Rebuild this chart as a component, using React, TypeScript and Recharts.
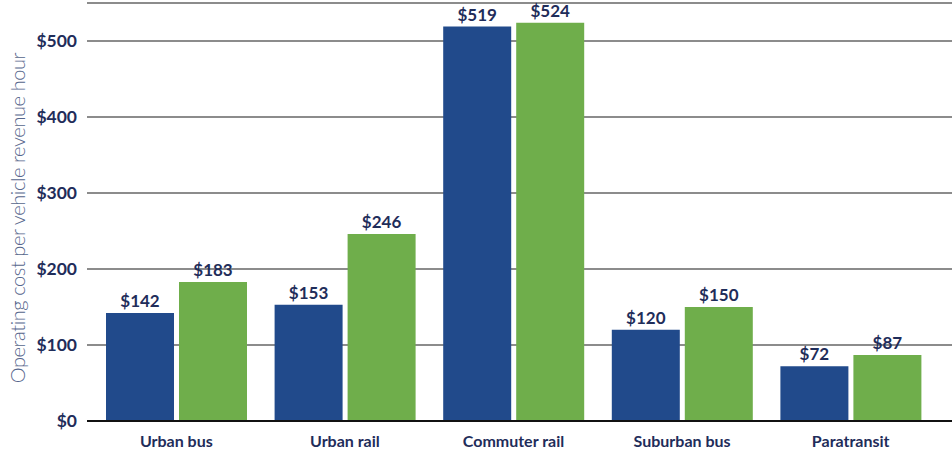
import React from 'react';
import { BarChart, Bar, XAxis, YAxis, CartesianGrid, LabelList } from 'recharts';

const categories = ['Urban bus', 'Urban rail', 'Commuter rail', 'Suburban bus', 'Paratransit'];
const seriesA = [142, 153, 519, 120, 72];
const seriesB = [183, 246, 524, 150, 87];
const yTicks = [0, 100, 200, 300, 400, 500];
const yTitle = 'Operating cost per vehicle revenue hour';

const chartData = categories.map((name, i) => ({ name, a: seriesA[i], b: seriesB[i] }));

const NAVY = '#1f2d5a';
const FONT = 'Lato, "Open Sans", sans-serif';

// rotated axis title, placed by hand near the left edge
const YTitle = (props: any) => {
  const { viewBox } = props;
  const cy = viewBox.y + viewBox.height / 2 + 6;
  const cx = 17;
  return (
    <text
      x={cx}
      y={cy}
      transform={`rotate(-90, ${cx}, ${cy})`}
      textAnchor="middle"
      dominantBaseline="central"
      fill="#56668c"
      fontSize={20}
      fontWeight={300}
      letterSpacing={-0.4}
      fontFamily={FONT}
    >
      {yTitle}
    </text>
  );
};

const App: React.FC = () => {
  return (
    <div style={{ position: 'absolute', left: 0, top: 0, width: 952, height: 450, background: '#fff' }}>
      <BarChart
        width={952}
        height={450}
        data={chartData}
        margin={{ top: 3, right: 0, bottom: 0, left: 0 }}
        barSize={68}
        barGap={5}
      >
        <CartesianGrid vertical={false} stroke="#666" strokeWidth={1.5} />
        <XAxis
          dataKey="name"
          height={29}
          padding={{ left: 5, right: 17 }}
          tickLine={false}
          axisLine={{ stroke: '#111', strokeWidth: 2 }}
          tickMargin={9}
          tick={{ fill: NAVY, fontSize: 16, fontWeight: 700, fontFamily: FONT }}
          interval={0}
        />
        <YAxis
          width={87}
          domain={[0, 550]}
          ticks={yTicks}
          tickLine={false}
          axisLine={false}
          tickMargin={4}
          tickFormatter={(v: number) => `$${v}`}
          tick={{ fill: NAVY, fontSize: 17.5, fontWeight: 700, fontFamily: FONT }}
          label={<YTitle />}
        />
        <Bar dataKey="a" fill="#214a8b" isAnimationActive={false}>
          <LabelList
            dataKey="a"
            position="top"
            offset={6}
            formatter={(v: number) => `$${v}`}
            style={{ fill: NAVY, fontSize: 17, fontWeight: 700, fontFamily: FONT }}
          />
        </Bar>
        <Bar dataKey="b" fill="#6fae4b" isAnimationActive={false}>
          <LabelList
            dataKey="b"
            position="top"
            offset={6}
            formatter={(v: number) => `$${v}`}
            style={{ fill: NAVY, fontSize: 17, fontWeight: 700, fontFamily: FONT }}
          />
        </Bar>
      </BarChart>
    </div>
  );
};

export default App;
